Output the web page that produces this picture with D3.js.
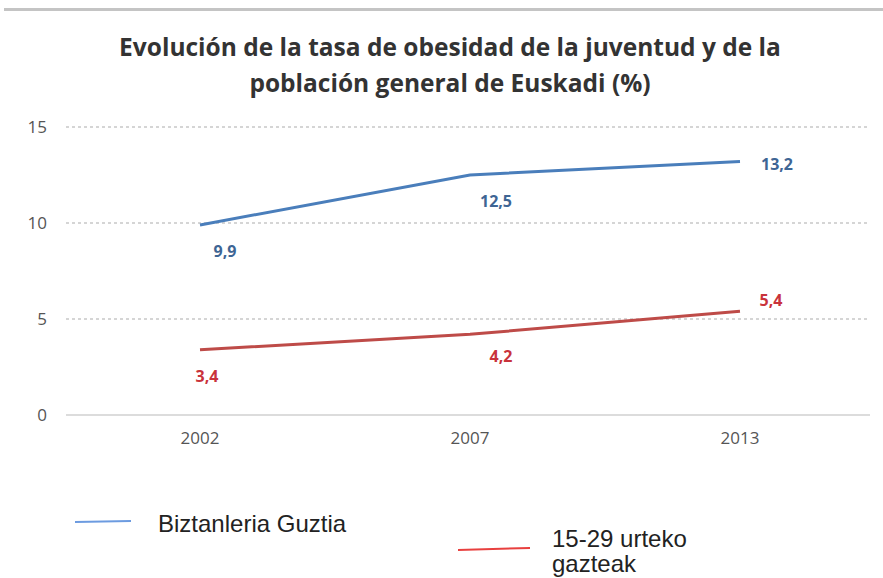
<!DOCTYPE html>
<html>
<head>
<meta charset="utf-8">
<script src="https://cdn.jsdelivr.net/npm/d3@7"></script>
<style>
  body { margin: 0; background: #fff; }
</style>
</head>
<body>
<div id="chart"></div>
<script>
var years = ["2002", "2007", "2013"];
var totalPop = [9.9, 12.5, 13.2];
var youth = [3.4, 4.2, 5.4];
var yTicks = [0, 5, 10, 15];
var seriesNames = ["Biztanleria Guztia", "15-29 urteko gazteak"];
var titleLines = ["Evolución de la tasa de obesidad de la juventud y de la", "población general de Euskadi (%)"];

var width = 883, height = 578;
var font = "'Open Sans', sans-serif";

var svg = d3.select("#chart").append("svg")
    .attr("width", width)
    .attr("height", height);

// grey strip at the top
svg.append("rect")
    .attr("x", 4).attr("y", 8)
    .attr("width", width - 4).attr("height", 3)
    .attr("fill", "#c4c4c4");

svg.selectAll("text.title")
    .data(titleLines)
    .enter().append("text")
    .attr("class", "title")
    .attr("x", 450)
    .attr("y", function (d, i) { return 56 + i * 36; })
    .attr("text-anchor", "middle")
    .attr("font-family", font)
    .attr("font-weight", "bold")
    .attr("font-size", 24.5)
    .attr("fill", "#333")
    .text(function (d) { return d; });

var xScale = d3.scaleBand()
    .domain(years)
    .range([65, 875]);

var yScale = d3.scaleLinear()
    .domain([0, 15])
    .range([415, 127]);

// gridlines
svg.append("g")
    .selectAll("line")
    .data(yTicks.filter(function (d) { return d > 0; }))
    .enter().append("line")
    .attr("x1", 66).attr("x2", 870)
    .attr("y1", function (d) { return yScale(d); })
    .attr("y2", function (d) { return yScale(d); })
    .attr("stroke", "#c8c8c8")
    .attr("stroke-width", 1.5)
    .attr("stroke-dasharray", "3,3");

svg.append("line")
    .attr("x1", 66).attr("x2", 870)
    .attr("y1", yScale(0)).attr("y2", yScale(0))
    .attr("stroke", "#d0d0d0")
    .attr("stroke-width", 1.5);

// y axis labels
var yAxis = svg.append("g")
    .attr("transform", "translate(47,0)")
    .call(d3.axisLeft(yScale).tickValues(yTicks).tickSize(0).tickPadding(0));
yAxis.select(".domain").remove();
yAxis.selectAll("text")
    .attr("font-family", font)
    .attr("font-size", 17)
    .attr("fill", "#555");

// x axis labels
var xAxis = svg.append("g")
    .attr("transform", "translate(0," + 432 + ")")
    .call(d3.axisBottom(xScale).tickSize(0).tickPadding(0));
xAxis.select(".domain").remove();
xAxis.selectAll("text")
    .attr("font-family", font)
    .attr("font-size", 17)
    .attr("fill", "#555");

var line = d3.line()
    .x(function (d, i) { return xScale(years[i]) + xScale.bandwidth() / 2; })
    .y(function (d) { return yScale(d); });

svg.append("path")
    .attr("d", line(totalPop))
    .attr("fill", "none")
    .attr("stroke", "#4a7ebb")
    .attr("stroke-width", 3);

svg.append("path")
    .attr("d", line(youth))
    .attr("fill", "none")
    .attr("stroke", "#be4b48")
    .attr("stroke-width", 3);

// data labels (offsets per point as in the original)
var blueOff = [[25, 32], [26, 32], [37, 8]];
var redOff = [[7, 32], [31, 28], [31, -5]];

function fmt(v) { return String(v).replace(".", ","); }

svg.append("g").selectAll("text")
    .data(totalPop)
    .enter().append("text")
    .attr("x", function (d, i) { return xScale(years[i]) + xScale.bandwidth() / 2 + blueOff[i][0]; })
    .attr("y", function (d, i) { return yScale(d) + blueOff[i][1]; })
    .attr("text-anchor", "middle")
    .attr("font-family", font)
    .attr("font-weight", "bold")
    .attr("font-size", 16)
    .attr("fill", "#3e6594")
    .text(fmt);

svg.append("g").selectAll("text")
    .data(youth)
    .enter().append("text")
    .attr("x", function (d, i) { return xScale(years[i]) + xScale.bandwidth() / 2 + redOff[i][0]; })
    .attr("y", function (d, i) { return yScale(d) + redOff[i][1]; })
    .attr("text-anchor", "middle")
    .attr("font-family", font)
    .attr("font-weight", "bold")
    .attr("font-size", 16)
    .attr("fill", "#c9333b")
    .text(fmt);

// legend
var legend = svg.append("g").attr("font-family", "'Liberation Sans', Arial, sans-serif")
    .attr("font-size", 24).attr("fill", "#222");

legend.append("line")
    .attr("x1", 75).attr("x2", 131).attr("y1", 522).attr("y2", 521)
    .attr("stroke", "#6c9be0").attr("stroke-width", 2);
legend.append("text")
    .attr("x", 158).attr("y", 532)
    .text(seriesNames[0]);

legend.append("line")
    .attr("x1", 458).attr("x2", 530).attr("y1", 550).attr("y2", 548)
    .attr("stroke", "#e8403f").attr("stroke-width", 2);
legend.append("text")
    .attr("x", 552).attr("y", 547)
    .text("15-29 urteko");
legend.append("text")
    .attr("x", 552).attr("y", 572)
    .text("gazteak");
</script>
</body>
</html>
